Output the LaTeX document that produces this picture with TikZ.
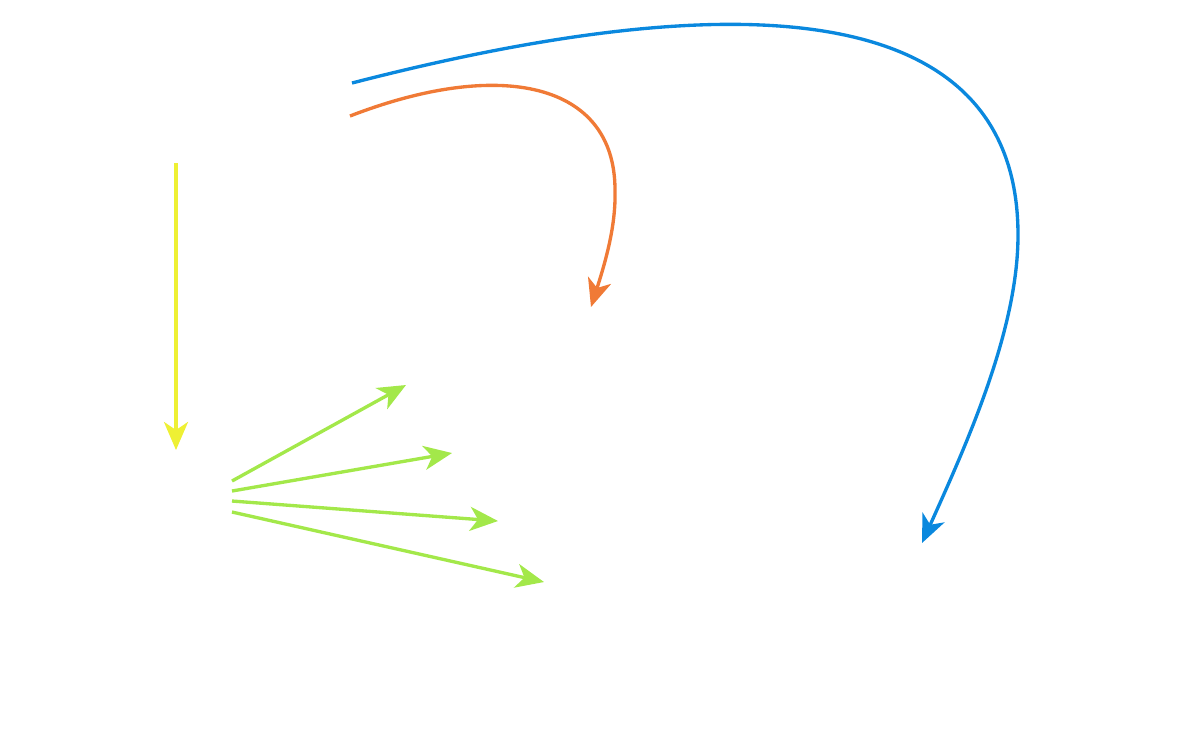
\documentclass[tikz,border=0pt]{standalone}
\usetikzlibrary{arrows.meta}
\definecolor{jaune}{RGB}{238,240,52}
\definecolor{vert}{RGB}{163,232,74}
\definecolor{orange}{RGB}{240,122,54}
\definecolor{bleu}{RGB}{10,136,222}
\tikzset{
  fleche/.style={line width=0.95pt, -{Stealth[length=0.28cm, width=0.24cm, inset=0.08cm]}},
}
\begin{document}
\begin{tikzpicture}[x=0.01cm, y=-0.01cm]
  \useasboundingbox (0,0) rectangle (1185,753);

  % 竖直箭头的两端
  \coordinate (Y0) at (176,163);   % 起点
  \coordinate (Y1) at (176,450);   % 终点
  \draw[fleche, jaune] (Y0) -- (Y1);

  % 扇形四支箭头
  \coordinate (G0a) at (232,481);
  \coordinate (G0b) at (232,491);
  \coordinate (G0c) at (232,501);
  \coordinate (G0d) at (232,512);
  \coordinate (G1) at (406,385);
  \coordinate (G2) at (452,453);
  \coordinate (G3) at (498,521);
  \coordinate (G4) at (544,582);
  \draw[fleche, vert] (G0a) -- (G1);
  \draw[fleche, vert] (G0b) -- (G2);
  \draw[fleche, vert] (G0c) -- (G3);
  \draw[fleche, vert] (G0d) -- (G4);

  % 橙色弯箭头
  \coordinate (O0) at (350,116);   % 起点
  \coordinate (OM) at (615,190);   % 最右点
  \coordinate (O1) at (591,307);   % 终点
  \draw[fleche, orange] (O0) .. controls (500,58) and (615,82) .. (OM)
    .. controls (616,225) and (606,260) .. (O1);

  % 蓝色大弧箭头
  \coordinate (B0) at (352,83);    % 起点
  \coordinate (BM) at (1018,235);  % 最右点
  \coordinate (B1) at (922,543);   % 终点
  \draw[fleche, bleu] (B0) .. controls (790,-30) and (1018,20) .. (BM)
    .. controls (1018,330) and (967,443) .. (B1);
\end{tikzpicture}
\end{document}
